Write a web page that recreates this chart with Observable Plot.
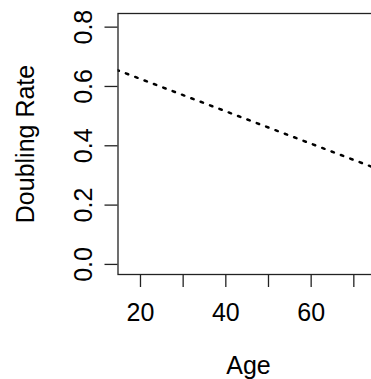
<!DOCTYPE html>
<html>
<head>
<meta charset="utf-8">
<script src="https://cdn.jsdelivr.net/npm/d3@7"></script>
<script src="https://cdn.jsdelivr.net/npm/@observablehq/plot@0.6"></script>
<style>
  html, body { margin: 0; padding: 0; background: #fff; overflow: hidden; }
  #chart { width: 371px; height: 379px; overflow: hidden; }
  #chart svg { max-width: none !important; width: 400px !important; height: 379px !important; font-family: "Liberation Sans", Arial, Helvetica, sans-serif; }
</style>
</head>
<body>
<div id="chart"></div>
<script>
// Fitted line (dotted)
const ages = [10, 90];
const rates = [0.680, 0.243];

// Axis ticks
const xTicks = [20, 30, 40, 50, 60, 70];
const xLabeled = [20, 40, 60];
const yTicks = [0, 0.2, 0.4, 0.6, 0.8];
const yLabels = ["0.0", "0.2", "0.4", "0.6", "0.8"];

const xLabel = "Age";
const yLabel = "Doubling Rate";

const lineData = ages.map((a, i) => ({age: a, rate: rates[i]}));
const yTickData = yTicks.map((v, i) => ({v, label: yLabels[i]}));

const FS = 25;

const plot = Plot.plot({
  width: 400,
  height: 379,
  marginLeft: 117.5,
  marginRight: 21.5,
  marginTop: 13,
  marginBottom: 105,
  style: {background: "#fff", fontFamily: "'Liberation Sans', Arial, sans-serif"},
  x: {domain: [14.73, 75.9]},
  y: {domain: [-0.034, 0.846]},
  marks: [
    Plot.line(lineData, {
      x: "age", y: "rate", stroke: "#000", strokeWidth: 2.5,
      strokeDasharray: "2.5,7.5", strokeLinecap: "round", clip: true
    }),
    Plot.frame({stroke: "#222", strokeWidth: 1.3}),
    Plot.axisX({
      ticks: xTicks, tickSize: 13, tickPadding: 16, fontSize: FS,
      tickFormat: d => xLabeled.includes(d) ? String(d) : "",
      stroke: "#222", strokeWidth: 1.3, label: null, color: "#000"
    }),
    Plot.axisY({
      ticks: yTicks, tickSize: 13, tickFormat: () => "",
      stroke: "#222", strokeWidth: 1.3, label: null
    }),
    Plot.text(yTickData, {
      y: "v", text: "label", frameAnchor: "left", dx: -26,
      rotate: -90, lineAnchor: "bottom", textAnchor: "middle",
      fontSize: FS, fill: "#000"
    }),
    Plot.text([yLabel], {
      text: d => d, frameAnchor: "left", dx: -84.5,
      rotate: -90, lineAnchor: "bottom", textAnchor: "middle",
      fontSize: FS, fill: "#000"
    }),
    Plot.text([xLabel], {
      text: d => d, frameAnchor: "bottom", dy: 99,
      lineAnchor: "bottom", textAnchor: "middle", fontSize: FS, fill: "#000"
    })
  ]
});
document.getElementById("chart").appendChild(plot);
</script>
</body>
</html>
